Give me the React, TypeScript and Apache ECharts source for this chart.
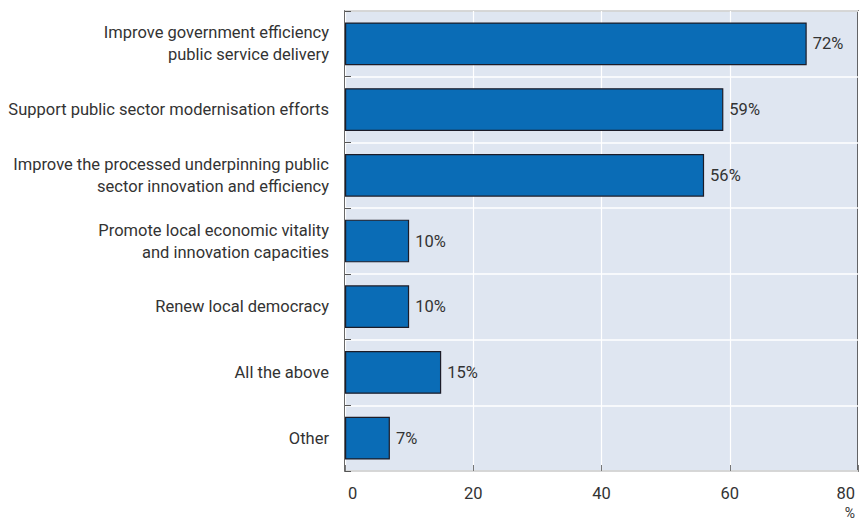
import React, { useEffect, useRef } from "react";
import * as echarts from "echarts";

const categories = [
  "Improve government efficiency\npublic service delivery",
  "Support public sector modernisation efforts",
  "Improve the processed underpinning public\nsector innovation and efficiency",
  "Promote local economic vitality\nand innovation capacities",
  "Renew local democracy",
  "All the above",
  "Other",
];
const values = [72, 59, 56, 10, 10, 15, 7];
const xTicks = { min: 0, max: 80, interval: 20 };
const unitLabel = "%";

const FONT = "'Roboto', sans-serif";
const TEXT = "#333333";

export default function App() {
  const ref = useRef<HTMLDivElement>(null);
  useEffect(() => {
    document.body.style.margin = "0";
    const chart = echarts.init(ref.current!, null, { renderer: "svg" });
    chart.setOption({
      animation: false,
      grid: {
        left: 345,
        right: 1,
        top: 11,
        bottom: 50,
        show: true,
        backgroundColor: "#dfe6f1",
        borderColor: "#2e2e2e",
        borderWidth: 1.6,
      },
      xAxis: {
        type: "value",
        min: xTicks.min,
        max: xTicks.max,
        interval: xTicks.interval,
        axisLine: { show: false },
        axisTick: { show: true, inside: true, length: 6, lineStyle: { color: "#777777" } },
        splitLine: { show: true, lineStyle: { color: "#ffffff", width: 1.2 } },
        axisLabel: {
          color: TEXT,
          fontFamily: FONT,
          fontSize: 16.5,
          margin: 14,
          padding: [0, 3, 0, 3],
          alignMinLabel: "left",
          alignMaxLabel: "right",
        },
      },
      yAxis: {
        type: "category",
        data: categories,
        inverse: true,
        axisLine: { show: false },
        axisTick: { show: true, inside: true, length: 6, interval: 0, lineStyle: { color: "#555555" } },
        splitLine: { show: true, interval: 0, lineStyle: { color: "#ffffff", width: 1.5 } },
        axisLabel: {
          color: TEXT,
          fontFamily: FONT,
          fontSize: 16.5,
          lineHeight: 22,
          margin: 16,
          align: "right",
        },
      },
      series: [
        {
          type: "bar",
          data: values,
          barCategoryGap: "35%",
          itemStyle: { color: "#0a6cb6", borderColor: "#1c1c28", borderWidth: 1.2 },
          label: {
            show: true,
            position: "right",
            distance: 6,
            formatter: "{c}%",
            color: TEXT,
            fontFamily: FONT,
            fontSize: 16.5,
          },
        },
      ],
      graphic: [
        {
          type: "text",
          right: 4,
          top: 506,
          style: { text: unitLabel, fill: TEXT, font: `14px ${FONT}` },
        },
      ],
    });
    return () => chart.dispose();
  }, []);
  return <div ref={ref} style={{ width: 859, height: 521 }} />;
}
